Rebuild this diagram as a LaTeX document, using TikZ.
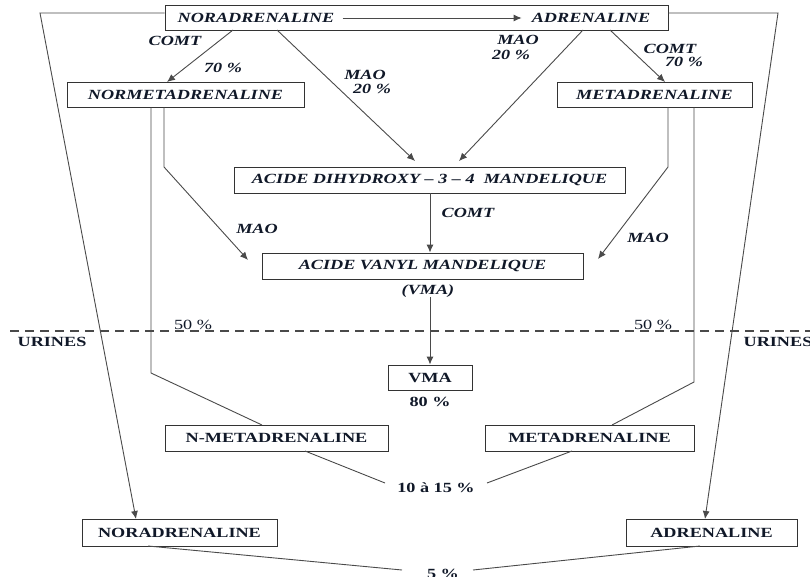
\documentclass[tikz,border=0pt]{standalone}
\usepackage{fontspec}
\setmainfont[FakeStretch=1.3]{Liberation Serif}
\usetikzlibrary{arrows.meta}
\definecolor{ln}{HTML}{4A4A4A}
\definecolor{tx}{HTML}{101828}
\tikzset{
  boxn/.style={draw=black!80, line width=0.9pt, inner sep=0pt, font=\bfseries\itshape, text=tx},
  boxu/.style={draw=black!80, line width=0.9pt, inner sep=0pt, font=\bfseries, text=tx},
  lbl/.style={inner sep=0pt, font=\bfseries\itshape, text=tx},
  lbu/.style={inner sep=0pt, font=\bfseries, text=tx},
  lbr/.style={inner sep=0pt, text=tx},
  conn/.style={draw=ln, line width=0.9pt},
  arr/.style={conn, -{Latex[length=8pt,width=7pt]}},
}
\begin{document}
\begin{tikzpicture}[x=1pt,y=-1pt]
\fontsize{14pt}{16pt}\selectfont
\useasboundingbox[fill=white] (0,0) rectangle (810,577);
% boxes
\node[boxn, minimum width=503pt, minimum height=25pt] (top) at (416.5,17.5) {};
\node[lbl] (na) at (256,18) {NORADRENALINE};
\node[lbl] (ad) at (591,18) {ADRENALINE};
\node[boxn, minimum width=237pt, minimum height=25pt] (nm) at (185.5,94.5) {NORMETADRENALINE};
\node[boxn, minimum width=195pt, minimum height=25pt] (md) at (654.5,94.5) {METADRENALINE};
\node[boxn, minimum width=391pt, minimum height=26pt] (dh) at (429.5,180) {ACIDE DIHYDROXY -- 3 -- 4\ \ MANDELIQUE};
\node[boxn, minimum width=321pt, minimum height=26pt] (vm) at (422.5,266) {ACIDE VANYL MANDELIQUE};
\node[lbl] (vmal) at (428,291) {(VMA)};
\node[boxu, minimum width=84pt, minimum height=25pt] (vma) at (430,377.5) {VMA};
\node[boxu, minimum width=223pt, minimum height=26pt] (nmet) at (276.5,438) {N-METADRENALINE};
\node[boxu, minimum width=209pt, minimum height=26pt] (met) at (589.5,438) {METADRENALINE};
\node[boxu, minimum width=195pt, minimum height=27pt] (nor) at (179.5,532.5) {NORADRENALINE};
\node[boxu, minimum width=171pt, minimum height=27pt] (adr) at (711.5,532.5) {ADRENALINE};
% labels
\node[lbl] at (175,41) {COMT};
\node[lbl] at (223,68) {70 \%};
\node[lbl] at (365,75) {MAO};
\node[lbl] at (372,89) {20 \%};
\node[lbl] at (518,40) {MAO};
\node[lbl] at (511,55) {20 \%};
\node[lbl] at (670,49) {COMT};
\node[lbl] at (684,62) {70 \%};
\node[lbl] at (468,213) {COMT};
\node[lbl] at (257,229) {MAO};
\node[lbl] at (648,238) {MAO};
\node[lbr] at (193,325) {50 \%};
\node[lbr] at (653,325) {50 \%};
\node[lbu] at (52,342) {URINES};
\node[lbu] at (778,342) {URINES};
\node[lbu] at (430,402) {80 \%};
\node[lbu] (p1015) at (436,488) {10 à 15 \%};
\node[lbu] (p5) at (443,574) {5 \%};
% dashed line
\draw[ln, line width=1.2pt, dash pattern=on 9pt off 6pt] (10,331) -- (810,331);
% connectors
\draw[arr] (na.east) ++(8,0) coordinate (a0) -- ([xshift=-10pt]ad.west);
\draw[arr] (233,30) coordinate (s1) -- (167,82);
\draw[arr] (277,30) coordinate (s2) -- (415,161);
\draw[arr] (583,30) coordinate (s3) -- (459,161);
\draw[arr] (610,30) coordinate (s4) -- (665,82);
\draw[arr] (dh.south) ++(0.5,0) -- ([xshift=7.5pt]vm.north);
\draw[arr] (430,297) coordinate (s5) -- (vma.north);
% outer lines
\coordinate (lo1) at (40,13);
\draw[arr] (top.west |- lo1) -- (lo1) -- (136,519);
\coordinate (ro1) at (778,13);
\draw[arr] (top.east |- ro1) -- (ro1) -- (705,519);
% normetadrenaline verticals
\coordinate (nb1) at (151,373);
\draw[conn] (nm.south -| nb1) -- (nb1) -- (262,425);
\coordinate (nb2) at (164,167);
\draw[arr] (nm.south -| nb2) -- (nb2) -- (248,260);
% metadrenaline verticals
\coordinate (mb1) at (668,167);
\draw[arr] (md.south -| mb1) -- (mb1) -- (598,259);
\coordinate (mb2) at (694,382);
\draw[conn] (md.south -| mb2) -- (mb2) -- (612,425);
% convergences
\draw[conn] (305,451) -- (385,483);
\draw[conn] (572,451) -- (487,483);
\draw[conn] (148,546) -- (402,570);
\draw[conn] (700,546) -- (473,570);
\end{tikzpicture}
\end{document}
